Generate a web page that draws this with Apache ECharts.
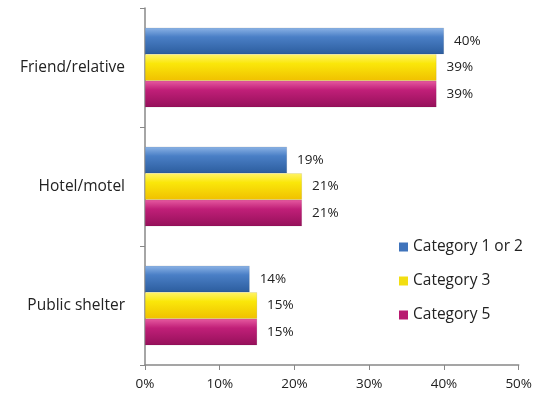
<!DOCTYPE html>
<html><head><meta charset="utf-8">
<script src="https://cdn.jsdelivr.net/npm/echarts@6/dist/echarts.min.js"></script>
<style>html,body{margin:0;padding:0;background:#fff}#c{width:535px;height:405px}</style>
</head><body><div id="c"></div>
<script>
const categories = ['Friend/relative', 'Hotel/motel', 'Public shelter'];
const seriesNames = ['Category 1 or 2', 'Category 3', 'Category 5'];
const cat12 = [40, 19, 14];
const cat3 = [39, 21, 15];
const cat5 = [39, 21, 15];
const xTicks = [0, 10, 20, 30, 40, 50];

function grad(a, b, c) {
  return new echarts.graphic.LinearGradient(0, 0, 0, 1, [
    {offset: 0, color: a}, {offset: 0.35, color: b}, {offset: 1, color: c}
  ]);
}
const colors = [
  grad('#8db4e6', '#4a7fc6', '#2c5d9e'),
  grad('#fff36a', '#fae70a', '#f0c000'),
  grad('#e65aa0', '#c01f78', '#95105a')
];
const legendColors = ['#3f73bb', '#f2de12', '#b81a70'];
const font = 'Open Sans, Noto Sans, sans-serif';
const vals = [cat12, cat3, cat5];

const chart = echarts.init(document.getElementById('c'));
chart.setOption({
  animation: false,
  textStyle: {fontFamily: font},
  grid: {left: 145, right: 16, top: 8, bottom: 40},
  legend: {
    orient: 'vertical', left: 394, top: 234, itemGap: 18,
    itemWidth: 9, itemHeight: 9, icon: 'rect', itemStyle: {borderWidth: 0},
    textStyle: {fontSize: 15.5, color: '#222', fontFamily: font},
    data: seriesNames.map((n, i) => ({name: n, itemStyle: {color: legendColors[i]}}))
  },
  xAxis: {
    type: 'value', min: 0, max: 50, interval: 10,
    axisLine: {show: true, lineStyle: {color: '#888', width: 1.5}},
    axisTick: {show: true, length: 5, lineStyle: {color: '#888'}},
    splitLine: {show: false},
    axisLabel: {formatter: v => v + '%', fontSize: 13.5, color: '#222', margin: 12}
  },
  yAxis: {
    type: 'category', data: categories, inverse: true,
    axisLine: {show: true, lineStyle: {color: '#888', width: 1.5}},
    axisTick: {show: true, length: 5, lineStyle: {color: '#888'}},
    axisLabel: {fontSize: 15.5, color: '#222', margin: 20}
  },
  series: seriesNames.map((n, i) => ({
    name: n, type: 'bar', data: vals[i],
    barGap: '0%', barCategoryGap: '33%',
    itemStyle: {color: colors[i], borderColor: 'rgba(0,0,0,0.15)', borderWidth: 0.5},
    label: {show: true, position: 'right', formatter: p => p.value + '%', fontSize: 13.5, color: '#222', distance: 10}
  }))
});
</script></body></html>
